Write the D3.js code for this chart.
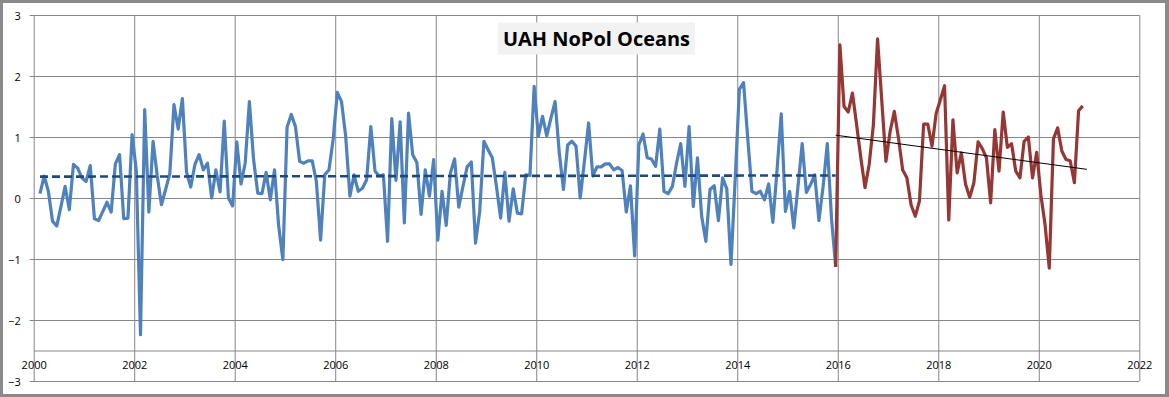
<!DOCTYPE html>
<html>
<head>
<meta charset="utf-8">
<script src="https://cdn.jsdelivr.net/npm/d3@7"></script>
<style>
  html, body { margin: 0; padding: 0; background: #fff; }
  svg { display: block; }
</style>
</head>
<body>
<script>
// UAH NoPol Oceans monthly anomalies
var blueStart = [2000, 2];   // year, month of first blue point
var blueValues = [
  0.07, 0.36, 0.11, -0.38, -0.46, -0.14, 0.19, -0.19, 0.55, 0.49, 0.33,
  0.27, 0.53, -0.34, -0.37, -0.22, -0.07, -0.23, 0.56, 0.71, -0.34, -0.33, 1.04,
  0.45, -2.24, 1.45, -0.23, 0.93, 0.36, -0.11, 0.14, 0.40, 1.53, 1.13, 1.63,
  0.42, 0.18, 0.55, 0.71, 0.46, 0.57, 0.00, 0.46, 0.10, 1.26, 0.00, -0.13,
  0.92, 0.23, 0.57, 1.58, 0.63, 0.08, 0.07, 0.42, -0.03, 0.46, -0.46, -1.01,
  1.16, 1.37, 1.17, 0.60, 0.57, 0.61, 0.61, 0.27, -0.69, 0.38, 0.46, 0.96,
  1.73, 1.58, 1.01, 0.03, 0.38, 0.11, 0.16, 0.30, 1.17, 0.44, 0.36, 0.38,
  -0.71, 1.30, 0.29, 1.25, -0.41, 1.39, 0.71, 0.58, -0.27, 0.46, 0.03, 0.63,
  -0.69, 0.11, -0.45, 0.41, 0.64, -0.15, 0.19, 0.51, 0.59, -0.74, -0.22, 0.93,
  0.79, 0.66, 0.19, -0.33, 0.42, -0.38, 0.15, -0.25, -0.26, 0.38, 0.37, 1.83,
  1.01, 1.34, 1.02, 1.31, 1.58, 0.74, 0.14, 0.87, 0.93, 0.85, 0.00, 0.60,
  1.23, 0.36, 0.51, 0.51, 0.56, 0.56, 0.46, 0.50, 0.45, -0.23, 0.20, -0.95,
  0.87, 1.05, 0.66, 0.64, 0.52, 1.13, 0.11, 0.07, 0.19, 0.57, 0.89, 0.19,
  1.17, -0.14, 0.66, -0.30, -0.71, 0.14, 0.20, -0.37, 0.33, 0.15, -1.09, 0.30,
  1.78, 1.89, 0.98, 0.11, 0.07, 0.11, -0.03, 0.23, -0.40, 0.46, 1.38, -0.22,
  0.11, -0.49, 0.19, 0.89, 0.09, 0.22, 0.38, -0.37, 0.19, 0.89, -0.33, -1.13
];
var redStart = [2015, 12];
var redValues = [
  -1.13, 2.51, 1.50, 1.41, 1.72, 1.20, 0.66, 0.17, 0.55, 1.20, 2.61, 1.60, 0.60,
  1.09, 1.42, 0.98, 0.46, 0.33, -0.11, -0.30, -0.05, 1.21, 1.21, 0.85, 1.39,
  1.61, 1.84, -0.36, 1.28, 0.41, 0.74, 0.23, 0.01, 0.25, 0.92, 0.81, 0.66,
  -0.08, 1.12, 0.44, 1.41, 0.83, 0.89, 0.44, 0.33, 0.93, 1.00, 0.33, 0.75,
  0.05, -0.44, -1.15, 0.97, 1.15, 0.77, 0.63, 0.61, 0.25, 1.43, 1.51
];
// linear trend end points [year, value]
var blueTrend = [[2000.125, 0.35], [2015.958, 0.37]];
var redTrend = [[2015.958, 1.03], [2020.958, 0.47]];

var xTicks = [2000, 2002, 2004, 2006, 2008, 2010, 2012, 2014, 2016, 2018, 2020, 2022];
var yTicks = [-3, -2, -1, 0, 1, 2, 3];
var title = "UAH NoPol Oceans";

var width = 1169, height = 397;
var x0 = 33.7, x1 = 1139.3, yTop = 15, yBot = 381;
var gridColor = "#868686";

function toSeries(start, values) {
  return values.map(function(v, i) {
    var m = start[1] - 1 + i;
    return { t: start[0] + (m + 0.5) / 12, v: v };
  });
}
var blue = toSeries(blueStart, blueValues);
var red = toSeries(redStart, redValues);

var x = d3.scaleLinear().domain([2000, 2022]).range([x0, x1]);
var y = d3.scaleLinear().domain([-3, 3]).range([yBot, yTop]);

var svg = d3.select("body").append("svg")
    .attr("width", width)
    .attr("height", height);

// frame
svg.append("rect").attr("width", width).attr("height", height).attr("fill", "#8a8a8a");
svg.append("rect").attr("x", 3).attr("y", 3).attr("width", width - 7).attr("height", height - 6)
    .attr("fill", "#fff");

// y axis with full-width gridlines
var yAxis = svg.append("g")
    .attr("transform", "translate(" + (x0 - 4) + ",0)")
    .call(d3.axisLeft(y).tickValues(yTicks).tickFormat(d3.format("d"))
          .tickSize(-(x1 - x0 + 4)).tickPadding(9));
yAxis.select(".domain").remove();
yAxis.selectAll(".tick line").attr("stroke", gridColor).attr("stroke-width", 1);
yAxis.selectAll(".tick text")
    .attr("dy", "0.4em")
    .attr("fill", "#000")
    .style("font-family", "'Open Sans', 'Liberation Sans', sans-serif")
    .style("font-size", "11px");

// x axis crossing at -2.5, vertical gridlines over full plot height
var xAxisY = y(-2.5);
var xAxis = svg.append("g")
    .attr("transform", "translate(0," + xAxisY + ")")
    .call(d3.axisBottom(x).tickValues(xTicks).tickFormat(d3.format("d"))
          .tickSizeOuter(0).tickSize(0));
xAxis.select(".domain").attr("stroke", gridColor).attr("stroke-width", 1);
xAxis.selectAll(".tick line")
    .attr("y1", yTop - xAxisY)
    .attr("y2", yBot - xAxisY)
    .attr("stroke", gridColor).attr("stroke-width", 1);
xAxis.selectAll(".tick text")
    .attr("y", 11)
    .attr("dy", "0.71em")
    .attr("fill", "#000")
    .style("font-family", "'Open Sans', 'Liberation Sans', sans-serif")
    .style("font-size", "11px");

// lines
var line = d3.line().x(function(d) { return x(d.t); }).y(function(d) { return y(d.v); });
var trendLine = d3.line().x(function(d) { return x(d[0]); }).y(function(d) { return y(d[1]); });

svg.append("path").datum(blue)
    .attr("d", line)
    .attr("fill", "none")
    .attr("stroke", "#4f81bd")
    .attr("stroke-width", 3.2)
    .attr("stroke-linejoin", "round");

svg.append("path").datum(red)
    .attr("d", line)
    .attr("fill", "none")
    .attr("stroke", "#953735")
    .attr("stroke-width", 3.2)
    .attr("stroke-linejoin", "round");

svg.append("path").datum(blueTrend)
    .attr("d", trendLine)
    .attr("fill", "none")
    .attr("stroke", "#1f497d")
    .attr("stroke-width", 2.6)
    .attr("stroke-dasharray", "8,4");

svg.append("path").datum(redTrend)
    .attr("d", trendLine)
    .attr("fill", "none")
    .attr("stroke", "#000")
    .attr("stroke-width", 1);

// title box
var tg = svg.append("g");
tg.append("rect")
    .attr("x", 498).attr("y", 22.5)
    .attr("width", 197).attr("height", 32)
    .attr("fill", "#f2f2f2");
tg.append("text")
    .attr("x", 596.5).attr("y", 46)
    .attr("text-anchor", "middle")
    .attr("textLength", 187)
    .attr("lengthAdjust", "spacingAndGlyphs")
    .style("font-family", "'Open Sans', 'Liberation Sans', sans-serif")
    .style("font-weight", "bold")
    .style("font-size", "19px")
    .attr("fill", "#000")
    .text(title);
</script>
</body>
</html>
